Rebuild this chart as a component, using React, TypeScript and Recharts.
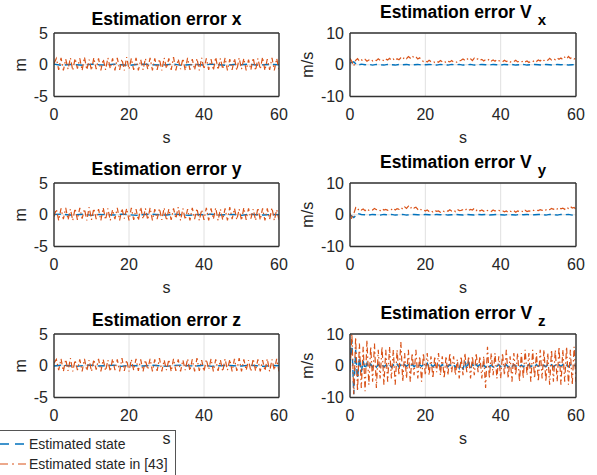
import React from 'react';
import { LineChart, Line, XAxis, YAxis, CartesianGrid, Label, ReferenceLine } from 'recharts';

const FONT = '"Liberation Sans", Arial, Helvetica, sans-serif';
const AXIS = '#333333';
const TXT = '#262626';
const BLUE = '#0072BD';
const ORANGE = '#D95319';

// sample spacing (s) of each hand-read series
const POS_STEP = 0.625;
const POS_BLUE_STEP = 2;
const VEL_STEP = 0.5;
const VEL_BLUE_STEP = 1;

const xTicks = [0, 20, 40, 60];
const posTicks = [-5, 0, 5];
const velTicks = [-10, 0, 10];

// Estimated state in [43] - position errors (m)
const posXOld = [
  0.2, 1.0, -0.8, 1.1, -0.9, 0.9, -0.7, 1.1, -0.9, 1.0,
  -0.6, 1.0, -0.9, 1.2, -0.8, 0.8, -0.9, 1.1, -0.7, 1.0,
  -0.9, 0.9, -0.8, 1.1, -0.6, 1.0, -0.9, 1.1, -0.8, 0.9,
  -0.9, 1.2, -0.7, 1.0, -0.8, 1.1, -0.9, 0.8, -0.8, 1.0,
  -0.7, 1.1, -0.9, 1.0, -0.8, 0.9, -0.9, 1.1, -0.6, 1.0,
  -0.8, 1.2, -0.9, 0.9, -0.7, 1.0, -0.9, 1.1, -0.8, 0.9,
  -0.8, 1.0, -0.9, 1.1, -0.7, 1.0, -0.8, 0.9, -0.9, 1.2,
  -0.8, 1.0, -0.7, 1.1, -0.9, 0.9, -0.8, 1.0, -0.9, 1.1,
  -0.7, 1.0, -0.9, 0.8, -0.8, 1.1, -0.9, 1.0, -0.7, 1.2,
  -0.9, 0.9, -0.8, 1.1, -0.9, 1.0, -0.8,
];
const posYOld = [
  -0.3, 0.9, -0.9, 1.0, -0.7, 1.1, -0.8, 0.9, -0.9, 1.0,
  -0.8, 1.1, -0.6, 0.9, -0.9, 1.2, -0.8, 1.0, -0.7, 0.9,
  -0.9, 1.1, -0.8, 1.0, -0.9, 0.8, -0.7, 1.1, -0.9, 1.0,
  -0.6, 1.0, -0.9, 1.1, -0.8, 0.9, -0.9, 1.2, -0.7, 1.0,
  -0.8, 1.1, -0.9, 0.9, -0.7, 1.0, -0.8, 1.1, -0.9, 0.9,
  -0.8, 1.0, -0.6, 1.2, -0.9, 1.0, -0.8, 0.9, -0.9, 1.1,
  -0.7, 1.0, -0.9, 0.8, -0.8, 1.1, -0.9, 1.0, -0.7, 1.1,
  -0.9, 0.9, -0.8, 1.0, -0.9, 1.2, -0.7, 1.0, -0.8, 0.9,
  -0.9, 1.1, -0.8, 1.0, -0.6, 0.9, -0.9, 1.1, -0.8, 1.0,
  -0.9, 1.0, -0.7, 1.1, -0.9, 0.8, -0.8,
];
const posZOld = [
  0.4, 1.0, -0.7, 1.1, -0.9, 1.0, -0.8, 1.2, -0.9, 0.9,
  -0.7, 1.0, -0.9, 1.1, -0.8, 0.9, -0.9, 1.0, -0.6, 1.1,
  -0.9, 1.0, -0.8, 0.9, -0.9, 1.1, -0.7, 1.0, -0.9, 1.2,
  -0.8, 0.9, -0.9, 1.0, -0.7, 1.1, -0.8, 1.0, -0.9, 0.9,
  -0.6, 1.1, -0.9, 1.0, -0.8, 1.2, -0.9, 0.9, -0.7, 1.0,
  -0.9, 1.1, -0.8, 1.0, -0.9, 0.9, -0.7, 1.1, -0.8, 1.0,
  -0.9, 1.2, -0.8, 0.9, -0.9, 1.0, -0.6, 1.1, -0.9, 1.0,
  -0.8, 0.9, -0.9, 1.1, -0.7, 1.0, -0.9, 1.1, -0.8, 1.2,
  -0.9, 1.0, -0.7, 0.9, -0.9, 1.1, -0.8, 1.0, -0.9, 0.9,
  -0.8, 1.1, -0.9, 1.0, -0.7, 1.1, -0.9,
];

// Estimated state - position errors (m)
const posXNew = [
  0.1, -0.1, 0.05, 0, -0.1, 0.1, 0, -0.05, 0.1, 0,
  -0.1, 0.05, 0.1, 0, -0.05, 0, 0.1, -0.1, 0, 0.05,
  -0.05, 0.1, 0, -0.1, 0.05, 0, 0.1, -0.05, 0, 0.05, 0,
];
const posYNew = [
  0.05, 0.1, -0.05, 0, 0.1, -0.1, 0.05, 0, -0.05, 0.1,
  0, -0.1, 0.05, 0.1, 0, -0.05, 0.1, 0, -0.1, 0.05,
  0, 0.1, -0.05, 0, 0.05, -0.1, 0.1, 0, -0.05, 0.05, 0,
];
const posZNew = [
  -0.05, 0.1, 0, -0.1, 0.05, 0.1, -0.05, 0, 0.1, -0.1,
  0.05, 0, -0.05, 0.1, 0, -0.1, 0.05, 0.1, 0, -0.05,
  0.1, -0.1, 0, 0.05, 0, -0.05, 0.1, 0, -0.1, 0.05, 0,
];

// Estimated state in [43] - velocity errors (m/s)
const velXOld = [
  2.0, 1.0, -0.4, 1.4, 1.9, 1.1, 1.6, 1.2, 1.7, 1.1,
  1.5, 1.8, 1.2, 1.6, 1.3, 1.9, 1.4, 1.7, 1.2, 1.8,
  1.5, 2.0, 1.4, 1.8, 1.3, 1.9, 1.6, 2.2, 1.7, 2.4,
  1.9, 2.6, 2.1, 2.8, 2.2, 2.5, 1.8, 2.2, 1.4, 1.0,
  1.3, 0.9, 1.4, 1.0, 1.2, 0.7, 1.1, 0.8, 1.3, 0.9,
  1.2, 0.6, 1.1, 0.9, 1.3, 0.8, 1.0, 0.7, 1.2, 1.4,
  1.8, 1.4, 2.0, 1.5, 1.9, 1.3, 2.1, 1.6, 1.9, 1.4,
  1.7, 1.2, 1.6, 1.3, 1.8, 1.2, 1.5, 1.1, 1.7, 1.3,
  1.2, 0.9, 1.4, 1.0, 1.3, 0.8, 1.2, 1.0, 1.4, 0.9,
  1.1, 0.8, 1.3, 0.9, 1.2, 0.7, 1.1, 0.9, 1.4, 1.0,
  1.5, 1.2, 1.8, 1.3, 1.7, 1.4, 2.0, 1.5, 1.9, 1.6,
  2.2, 1.7, 2.1, 1.6, 2.4, 1.8, 2.6, 2.0, 2.3, 1.8,
  2.1,
];
const velYOld = [
  0.5, -1.5, 0.3, 2.2, 1.4, 2.0, 1.5, 1.8, 1.3, 1.9,
  1.4, 1.7, 1.5, 2.0, 1.6, 1.8, 1.3, 1.9, 1.5, 1.7,
  1.4, 1.8, 1.6, 2.1, 1.5, 1.9, 1.7, 2.3, 1.8, 2.5,
  2.0, 2.7, 1.9, 2.6, 2.1, 2.4, 1.7, 2.1, 1.4, 1.6,
  1.2, 1.5, 1.0, 1.3, 0.9, 1.4, 1.1, 1.2, 0.8, 1.3,
  1.0, 1.4, 1.1, 1.6, 1.2, 1.5, 1.0, 1.7, 1.3, 1.4,
  1.6, 1.3, 1.9, 1.4, 1.7, 1.5, 2.0, 1.3, 1.8, 1.2,
  1.5, 1.1, 1.6, 1.3, 1.4, 1.0, 1.5, 1.2, 1.6, 1.4,
  1.1, 1.3, 0.9, 1.2, 0.7, 1.1, 0.9, 1.3, 0.8, 1.2,
  1.0, 1.3, 0.8, 1.4, 1.0, 1.2, 1.1, 1.5, 1.2, 1.4,
  1.3, 1.6, 1.4, 1.8, 1.5, 1.9, 1.6, 2.0, 1.7, 2.2,
  1.8, 2.3, 1.9, 2.1, 1.7, 2.4, 2.0, 2.6, 2.1, 2.3,
  1.6,
];
const velZOld = [
  -2, 10, -9, 9, -8, 7, -7, 6, -8, 8,
  -6, 6, -5, 7, -7, 5, -4, 6, -6, 5,
  -5, 6, -4, 5, -6, 5, -3, 7.5, -5, 4,
  -4, 5, -5, 4, -3, 5, -4, 3, -5, 4,
  -3, 4, -3, 3, -4, 3, -2, 4, -3, 3,
  -4, 3, -3, 4, -2, 3, -3, 2, -4, 3,
  -3, 4, -2, 3, -4, 3, -3, 4, -2, 3,
  -4, 3, -7, 6, -4, 4, -3, 4, -4, 3,
  -4, 4, -3, 5, -4, 3, -5, 4, -3, 4,
  -5, 4, -4, 5, -3, 4, -5, 5, -4, 4,
  -5, 5, -4, 5, -5, 4, -6, 5, -5, 5,
  -5, 6, -6, 5, -5, 6, -6, 5, -6, 6,
  -5,
];

// Estimated state - velocity errors (m/s)
const velXNew = [
  0.5, 0.9, -0.2, 0.2, 0.0, 0.1, -0.1, 0.1, 0.0, -0.1,
  0.1, 0.0, -0.1, 0.1, 0.0, 0.1, -0.1, 0.0, 0.1, -0.1,
  0.0, 0.1, 0.0, -0.1, 0.1, 0.0, -0.1, 0.1, 0.0, 0.1,
  -0.1, 0.0, 0.1, -0.1, 0.0, 0.1, 0.0, -0.1, 0.1, 0.0,
  -0.1, 0.1, 0.0, 0.1, -0.1, 0.0, 0.1, -0.1, 0.0, 0.1,
  0.0, -0.1, 0.1, 0.0, -0.1, 0.1, 0.0, 0.1, -0.1, 0.0,
  0.1,
];
const velYNew = [
  0.0, -0.9, 0.4, 0.1, 0.0, -0.1, 0.1, 0.0, -0.1, 0.1,
  0.0, 0.1, -0.1, 0.0, 0.1, -0.1, 0.0, 0.1, 0.0, -0.1,
  0.1, 0.0, -0.1, 0.1, 0.0, 0.1, -0.1, 0.0, 0.1, 0.0,
  -0.1, 0.1, 0.0, -0.1, 0.1, 0.0, 0.1, -0.1, 0.0, 0.1,
  0.0, -0.1, 0.1, 0.0, -0.1, 0.1, 0.0, 0.1, -0.1, 0.0,
  0.1, 0.0, -0.1, 0.1, 0.0, -0.1, 0.1, 0.0, 0.1, -0.1,
  0.0,
];
const VZ_BLUE_STEP = 0.5;
const velZNew = [
  0, 8, -9, 5, -4, 2.5, -2, 1.5, -1, 0.8,
  -0.6, 0.5, -0.4, 0.3, -0.5, 0.4, -0.3, 0.5, -0.4, 0.2,
  -0.3, 0.4, -0.5, 0.3, -0.2, 0.5, -0.4, 0.3, -0.3, 0.4,
  -0.2, 0.3, -0.4, 0.5, -0.3, 0.2, -0.4, 0.3, -0.2, 0.4,
  -0.3, 0.8, -0.5, 0.4, -0.3, 0.3, -0.4, 0.2, -0.3, 0.4,
  -0.2, 0.3, -0.3, 0.4, -0.2, 0.3, -0.5, 0.6, -0.8, 1.0,
  -1.2, 1.4, -1.0, 1.2, -0.8, 0.6, -0.5, 0.4, -0.3, 0.5,
  -0.4, 0.3, -0.5, 0.4, -0.3, 0.2, -0.4, 0.3, -0.2, 0.4,
  -0.3, 0.4, -0.2, 0.3, -0.4, 0.2, -0.3, 0.4, -0.2, 0.3,
  -0.3, 0.2, -0.4, 0.3, -0.2, 0.4, -0.3, 0.2, -0.3, 0.4,
  -0.2, 0.3, -0.4, 0.2, -0.3, 0.4, -0.2, 0.3, -0.3, 0.2,
  -0.4, 0.3, -0.2, 0.4, -0.3, 0.2, -0.3, 0.4, -0.2, 0.3,
  -0.3,
];

const toPoints = (vals: number[], step: number) => vals.map((v, i) => ({ t: i * step, v }));

const TOP_PAD = 33;
const PLOT_H = 63.5;
const XAXIS_H = 50;

function makeTitle(title: string, sub?: string) {
  return (props: any) => {
    const vb = props.viewBox || {};
    const cx = vb.x + vb.width / 2;
    if (!sub) {
      return (
        <text x={cx} y={vb.y - 8} textAnchor="middle" fontFamily={FONT} fontWeight="bold" fontSize={17.5} fill="#000">
          {title}
        </text>
      );
    }
    return (
      <text x={cx} y={vb.y - 15.5} textAnchor="middle" fontFamily={FONT} fontWeight="bold" fontSize={17.5} fill="#000">
        {title}
        <tspan dx={6} dy={7.5} fontSize={15}>{sub}</tspan>
      </text>
    );
  };
}

type SubplotProps = {
  left: number;
  plotTop: number;
  width: number;
  yAxisWidth: number;
  marginRight: number;
  title: string;
  sub?: string;
  yLabel: string;
  yLabelOffset: number;
  yDomain: number[];
  yTicks: number[];
  oldVals: number[];
  oldStep: number;
  newVals: number[];
  newStep: number;
};

function Subplot(p: SubplotProps) {
  const h = TOP_PAD + PLOT_H + XAXIS_H;
  const tickStyle = { fill: TXT, fontSize: 16, fontFamily: FONT };
  const yMax = p.yDomain[1];
  return (
    <div style={{ position: 'absolute', left: p.left, top: p.plotTop - TOP_PAD, width: p.width, height: h }}>
      <LineChart width={p.width} height={h} margin={{ top: TOP_PAD, right: p.marginRight, bottom: 0, left: 0 }}>
        <CartesianGrid stroke="#e0e0e0" strokeWidth={1} />
        <XAxis
          dataKey="t"
          type="number"
          domain={[0, 60]}
          ticks={xTicks}
          allowDataOverflow
          tickLine={false}
          tickSize={0}
          tickMargin={12}
          height={XAXIS_H}
          tick={tickStyle}
          axisLine={{ stroke: AXIS, strokeWidth: 1.4 }}
        >
          <Label value="s" position="insideBottom" offset={4} style={{ fill: TXT, fontSize: 16, fontFamily: FONT }} />
        </XAxis>
        <YAxis
          type="number"
          domain={p.yDomain}
          ticks={p.yTicks}
          allowDataOverflow
          width={p.yAxisWidth}
          tickLine={false}
          tickSize={0}
          tickMargin={6}
          tick={tickStyle}
          axisLine={{ stroke: AXIS, strokeWidth: 1.4 }}
        >
          <Label
            value={p.yLabel}
            angle={-90}
            position="insideLeft"
            offset={p.yLabelOffset}
            style={{ textAnchor: 'middle', fill: TXT, fontSize: 16, fontFamily: FONT }}
          />
        </YAxis>
        <Line
          data={toPoints(p.newVals, p.newStep)}
          dataKey="v"
          type="linear"
          stroke={BLUE}
          strokeWidth={1.4}
          strokeDasharray="7 4"
          dot={false}
          isAnimationActive={false}
        />
        <Line
          data={toPoints(p.oldVals, p.oldStep)}
          dataKey="v"
          type="linear"
          stroke={ORANGE}
          strokeWidth={1.2}
          strokeDasharray="6 3 1.5 3"
          dot={false}
          isAnimationActive={false}
        />
        {/* box: top and right edges, title sits on the top edge */}
        <ReferenceLine y={yMax} stroke={AXIS} strokeWidth={1.4}>
          <Label content={makeTitle(p.title, p.sub)} />
        </ReferenceLine>
        <ReferenceLine x={60} stroke={AXIS} strokeWidth={1.4} />
      </LineChart>
    </div>
  );
}

const LEFT = { left: 0, width: 297, yAxisWidth: 54, marginRight: 18, yLabelOffset: 20 };
const RIGHT = { left: 297, width: 300, yAxisWidth: 53, marginRight: 21, yLabelOffset: 10.5 };
const ROW_TOPS = [33, 183, 334];

function LegendBox() {
  return (
    <div
      style={{
        position: 'absolute',
        left: -1,
        top: 430,
        width: 177,
        height: 60,
        border: '1px solid #555',
        boxSizing: 'border-box',
      }}
    >
      <svg width={177} height={58} style={{ display: 'block' }}>
        <line x1={0} y1={13} x2={26} y2={13} stroke={BLUE} strokeWidth={1.4} strokeDasharray="9 6" />
        <text x={29} y={18} fontFamily={FONT} fontSize={14} fill={TXT}>Estimated state</text>
        <line x1={0} y1={33} x2={26} y2={33} stroke={ORANGE} strokeWidth={1.2} strokeDasharray="8 4 2 4" />
        <text x={29} y={38} fontFamily={FONT} fontSize={14} fill={TXT}>Estimated state in [43]</text>
      </svg>
    </div>
  );
}

export default function App() {
  return (
    <div style={{ position: 'absolute', left: 0, top: 0, width: 597, height: 475, overflow: 'hidden', background: '#fff' }}>
      <LegendBox />
      <Subplot {...LEFT} plotTop={ROW_TOPS[0]} title="Estimation error x" yLabel="m" yDomain={[-5, 5]} yTicks={posTicks}
        oldVals={posXOld} oldStep={POS_STEP} newVals={posXNew} newStep={POS_BLUE_STEP} />
      <Subplot {...RIGHT} plotTop={ROW_TOPS[0]} title="Estimation error V" sub="x" yLabel="m/s" yDomain={[-10, 10]} yTicks={velTicks}
        oldVals={velXOld} oldStep={VEL_STEP} newVals={velXNew} newStep={VEL_BLUE_STEP} />
      <Subplot {...LEFT} plotTop={ROW_TOPS[1]} title="Estimation error y" yLabel="m" yDomain={[-5, 5]} yTicks={posTicks}
        oldVals={posYOld} oldStep={POS_STEP} newVals={posYNew} newStep={POS_BLUE_STEP} />
      <Subplot {...RIGHT} plotTop={ROW_TOPS[1]} title="Estimation error V" sub="y" yLabel="m/s" yDomain={[-10, 10]} yTicks={velTicks}
        oldVals={velYOld} oldStep={VEL_STEP} newVals={velYNew} newStep={VEL_BLUE_STEP} />
      <Subplot {...LEFT} plotTop={ROW_TOPS[2]} title="Estimation error z" yLabel="m" yDomain={[-5, 5]} yTicks={posTicks}
        oldVals={posZOld} oldStep={POS_STEP} newVals={posZNew} newStep={POS_BLUE_STEP} />
      <Subplot {...RIGHT} plotTop={ROW_TOPS[2]} title="Estimation error V" sub="z" yLabel="m/s" yDomain={[-10, 10]} yTicks={velTicks}
        oldVals={velZOld} oldStep={VEL_STEP} newVals={velZNew} newStep={VZ_BLUE_STEP} />
    </div>
  );
}
